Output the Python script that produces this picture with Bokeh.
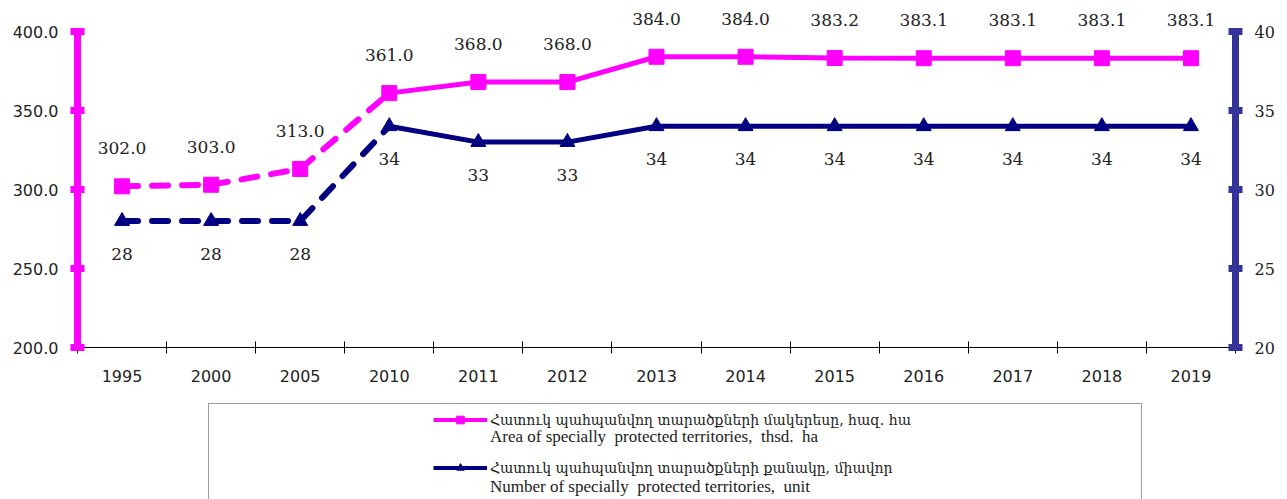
from bokeh.plotting import figure
from bokeh.layouts import column
from bokeh.models import (Range1d, LinearAxis, FixedTicker, ColumnDataSource, LabelSet,
                          Legend, LegendItem, NumeralTickFormatter)
from bokeh.core.properties import value
from bokeh.embed import file_html
from bokeh.resources import INLINE

# ---------------- data ----------------
years = ["1995", "2000", "2005", "2010", "2011", "2012", "2013",
         "2014", "2015", "2016", "2017", "2018", "2019"]
area = [302.0, 303.0, 313.0, 361.0, 368.0, 368.0, 384.0,
        384.0, 383.2, 383.1, 383.1, 383.1, 383.1]
count = [28, 28, 28, 34, 33, 33, 34, 34, 34, 34, 34, 34, 34]
area_ticks = [200, 250, 300, 350, 400]
count_ticks = [20, 25, 30, 35, 40]
n_dashed = 4  # first points joined by dashed lines (1995-2010)

legend_area_hy = "Հատուկ պահպանվող տարածքների մակերեսը, հազ. հա"
legend_area_en = "Area of specially  protected territories,  thsd.  ha"
legend_count_hy = "Հատուկ պահպանվող տարածքների քանակը, միավոր"
legend_count_en = "Number of specially  protected territories,  unit"

MAGENTA = "#FF00FF"
NAVY = "#000080"
RAXIS = "#333399"
TXT = "#222222"
SERIF = "DejaVu Serif"
SANS = "DejaVu Sans"

# layout (pixels)
W, H_TOP, H_BOT = 1287, 395, 104
FR_L, FR_R, FR_T, FR_B = 77, 1235, 31, 347   # where the axes sit on the page
PX_PER_AREA = (FR_B - FR_T) / (area_ticks[-1] - area_ticks[0])
PX_PER_COUNT = (FR_B - FR_T) / (count_ticks[-1] - count_ticks[0])

xs = [i + 0.5 for i in range(len(years))]
src = ColumnDataSource(dict(x=xs, area=area, count=count,
                            area_lbl=[f"{v:.1f}" for v in area],
                            count_lbl=[str(v) for v in count]))
src_dash = ColumnDataSource(dict(x=xs[:n_dashed], area=area[:n_dashed], count=count[:n_dashed]))
src_solid = ColumnDataSource(dict(x=xs[n_dashed - 1:], area=area[n_dashed - 1:],
                                  count=count[n_dashed - 1:]))

# the frame starts at the page top so that labels above 400 are not clipped;
# the axes are bounded to their real ranges
y_top = area_ticks[-1] + FR_T / PX_PER_AREA
c_top = count_ticks[-1] + FR_T / PX_PER_COUNT

p = figure(width=W, height=H_TOP, output_backend="svg", toolbar_location=None,
           x_range=Range1d(0, len(years)), y_range=Range1d(area_ticks[0], y_top),
           x_axis_type=None, y_axis_type=None,
           min_border_left=FR_L, min_border_right=W - FR_R, min_border_top=0,
           min_border_bottom=H_TOP - FR_B)
p.extra_y_ranges = {"count": Range1d(count_ticks[0], c_top)}
p.grid.visible = False
p.outline_line_color = None
p.background_fill_color = "white"
p.border_fill_color = "white"

# x axis: labels at category centres, tick marks at boundaries
xax = LinearAxis(ticker=FixedTicker(ticks=xs, minor_ticks=list(range(len(years) + 1))),
                 major_label_overrides={x: y for x, y in zip(xs, years)})
xax.axis_line_color = "black"
xax.axis_line_width = 1
xax.major_tick_in = 0
xax.major_tick_out = 0
xax.minor_tick_in = 6
xax.minor_tick_out = 6
xax.minor_tick_line_color = "black"
xax.major_label_text_font = SANS
xax.major_label_text_font_size = "16px"
xax.major_label_text_color = TXT
xax.major_label_standoff = 16
p.add_layout(xax, "below")

# left axis
lax = LinearAxis(ticker=FixedTicker(ticks=area_ticks), formatter=NumeralTickFormatter(format="0.0"),
                 bounds=(area_ticks[0], area_ticks[-1]))
lax.axis_line_color = MAGENTA
lax.axis_line_width = 7
lax.major_tick_line_color = MAGENTA
lax.major_tick_line_width = 7
lax.major_tick_in = 7
lax.major_tick_out = 7
lax.minor_tick_line_color = None
lax.major_label_text_font = SANS
lax.major_label_text_font_size = "16px"
lax.major_label_text_color = TXT
lax.major_label_standoff = 12
p.add_layout(lax, "left")

# right axis
rax = LinearAxis(y_range_name="count", ticker=FixedTicker(ticks=count_ticks),
                 bounds=(count_ticks[0], count_ticks[-1]))
rax.axis_line_color = RAXIS
rax.axis_line_width = 7
rax.major_tick_line_color = RAXIS
rax.major_tick_line_width = 7
rax.major_tick_in = 7
rax.major_tick_out = 7
rax.minor_tick_line_color = None
rax.major_label_text_font = SERIF
rax.major_label_text_font_size = "16px"
rax.major_label_text_color = TXT
rax.major_label_standoff = 12
p.add_layout(rax, "right")

# navy series (right axis)
p.line("x", "count", source=src_dash, y_range_name="count", line_color=NAVY,
       line_width=6, line_dash="16 14", line_cap="round")
p.line("x", "count", source=src_solid, y_range_name="count", line_color=NAVY, line_width=5)
p.scatter("x", "count", source=src, y_range_name="count", marker="triangle",
          size=15, fill_color=NAVY, line_color=NAVY)

# magenta series (left axis)
p.line("x", "area", source=src_dash, line_color=MAGENTA, line_width=6,
       line_dash="16 14", line_cap="round")
p.line("x", "area", source=src_solid, line_color=MAGENTA, line_width=5)
p.scatter("x", "area", source=src, marker="square", size=15,
          fill_color=MAGENTA, line_color=MAGENTA)

# data labels
p.add_layout(LabelSet(x="x", y="area", text="area_lbl", source=src, y_offset=38,
                      text_align="center", text_baseline="middle",
                      text_font=value(SERIF), text_font_size=value("17px"),
                      text_color=TXT))
p.add_layout(LabelSet(x="x", y="count", text="count_lbl", source=src, y_offset=-33,
                      y_range_name="count", text_align="center", text_baseline="middle",
                      text_font=value(SERIF), text_font_size=value("17px"),
                      text_color=TXT))

# ---------------- legend panel ----------------
# (its frame is aligned with the chart's frame by the column layout)
q = figure(width=W, height=H_BOT, output_backend="svg", toolbar_location=None,
           x_range=Range1d(0, 1), y_range=Range1d(0, 1), x_axis_type=None, y_axis_type=None,
           min_border_left=0, min_border_right=0, min_border_top=0, min_border_bottom=0)
q.grid.visible = False
q.outline_line_color = None
q.background_fill_color = "white"
q.border_fill_color = "white"

NAN = [float("nan")]
dummy = q.line(x=NAN, y=NAN, line_alpha=0)
lg_mag = q.line(x=NAN, y=NAN, line_color=MAGENTA, line_width=4)
lg_mag_m = q.scatter(x=NAN, y=NAN, marker="square", size=5, fill_color=MAGENTA, line_color=MAGENTA)
lg_navy = q.line(x=NAN, y=NAN, line_color=NAVY, line_width=4)
lg_navy_m = q.scatter(x=NAN, y=NAN, marker="triangle", size=5, fill_color=NAVY, line_color=NAVY)

box = Legend(items=[LegendItem(label=" ", renderers=[dummy])], location=(131, -8),
             padding=0, margin=0, spacing=0, glyph_width=0, glyph_height=102,
             label_standoff=0, label_width=932, label_height=102,
             border_line_color="#3a3a3a", border_line_width=1,
             background_fill_color="white", label_text_font_size="2px")
q.add_layout(box, "center")

leg_hy = Legend(items=[LegendItem(label=legend_area_hy, renderers=[lg_mag, lg_mag_m]),
                       LegendItem(label=legend_count_hy, renderers=[lg_navy, lg_navy_m])],
                location=(356, 22), padding=0, margin=0, spacing=29,
                glyph_width=54, glyph_height=19, label_height=19, label_standoff=3,
                border_line_alpha=0, background_fill_alpha=0,
                label_text_font=SERIF, label_text_font_size="14px",
                label_text_color=TXT)
q.add_layout(leg_hy, "center")

leg_en = Legend(items=[LegendItem(label=legend_area_en, renderers=[dummy]),
                       LegendItem(label=legend_count_en, renderers=[dummy])],
                location=(356, 2), padding=0, margin=0, spacing=30,
                glyph_width=54, glyph_height=19, label_height=19, label_standoff=3,
                border_line_alpha=0, background_fill_alpha=0,
                label_text_font="Liberation Serif", label_text_font_size="17px",
                label_text_color=TXT)
q.add_layout(leg_en, "center")

layout = column(p, q, spacing=0)
open("out.html", "w").write(file_html(layout, INLINE))
